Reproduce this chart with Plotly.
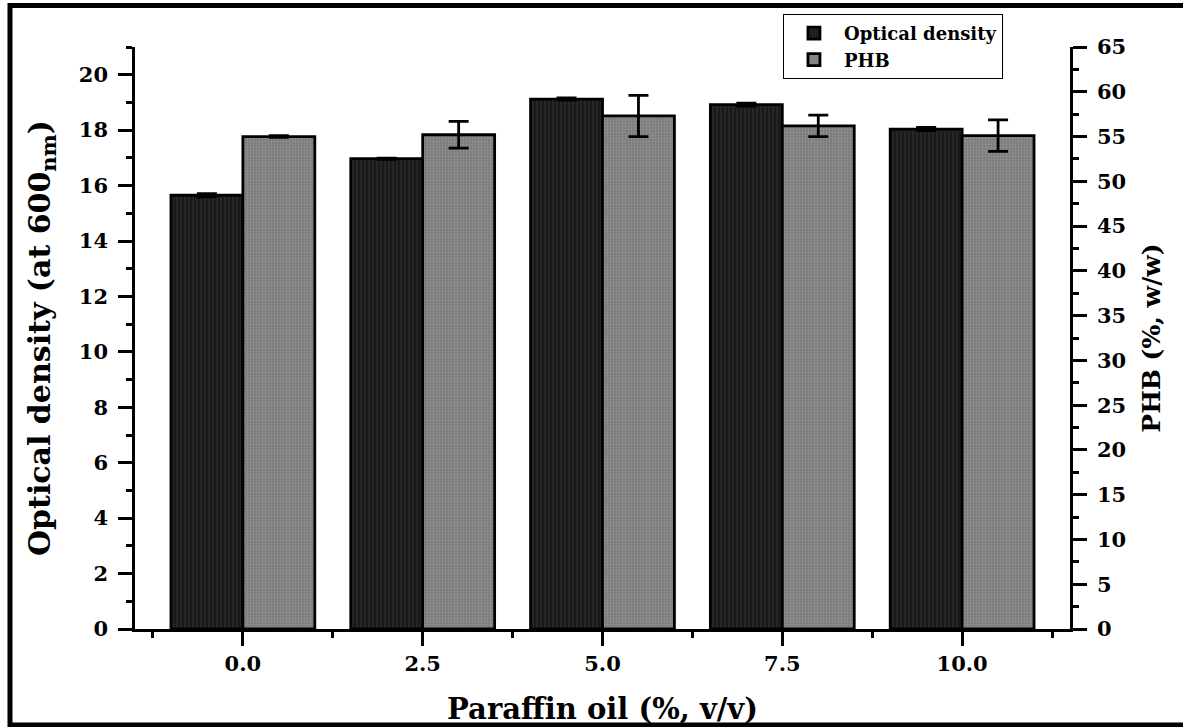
import plotly.graph_objects as go

# ---- data ----
paraffin = [0.0, 2.5, 5.0, 7.5, 10.0]
tick_labels = ["0.0", "2.5", "5.0", "7.5", "10.0"]
od_values = [15.65, 16.97, 19.12, 18.92, 18.04]
od_errors = [0.06, 0.02, 0.04, 0.05, 0.06]
phb_values = [55.0, 55.2, 57.3, 56.2, 55.1]
phb_errors = [0.1, 1.5, 2.3, 1.2, 1.75]

FONT = "DejaVu Serif"

fig = go.Figure()
fig.add_trace(go.Bar(
    x=paraffin, y=od_values, name="Optical density", yaxis="y",
    width=1.0, offset=-1.0,
    marker=dict(color="#1a1a1a", line=dict(color="black", width=2.8),
                pattern=dict(shape="|", fgcolor="#4a4a4a", bgcolor="#1a1a1a",
                             size=4, solidity=0.25)),
    error_y=dict(type="data", array=od_errors, visible=True,
                 color="black", thickness=2.8, width=10),
))
fig.add_trace(go.Bar(
    x=paraffin, y=phb_values, name="PHB", yaxis="y2",
    width=1.0, offset=0.0,
    marker=dict(color="#8a8a8a", line=dict(color="black", width=2.8),
                pattern=dict(shape=".", fgcolor="#aaaaaa", bgcolor="#787878",
                             size=3, solidity=0.45)),
    error_y=dict(type="data", array=phb_errors, visible=True,
                 color="black", thickness=2.8, width=10),
))

tickfont = dict(family=FONT, size=21, color="black", weight="bold")

fig.update_layout(
    width=1183, height=727,
    margin=dict(l=135, r=113, t=47, b=98, autoexpand=False),
    paper_bgcolor="white", plot_bgcolor="white",
    barmode="overlay",
    font=dict(family=FONT, color="black", weight="bold"),
    showlegend=True,
    legend=dict(x=0.693, y=1.0567, xanchor="left", yanchor="top",
                bordercolor="black", borderwidth=1, bgcolor="white",
                font=dict(family=FONT, size=18, color="black", weight="bold"),
                tracegroupgap=0, itemwidth=50),
    xaxis=dict(
        range=[-1.5, 11.5], tickmode="array", tickvals=paraffin, ticktext=tick_labels,
        ticks="outside", ticklen=14, tickwidth=2.5, tickcolor="black",
        minor=dict(tick0=-1.25, dtick=2.5, ticks="outside", ticklen=6,
                   tickwidth=2.5, tickcolor="black"),
        showline=True, linewidth=2.5, linecolor="black", automargin=False,
        showgrid=False, zeroline=False, tickfont=tickfont,
        title=dict(text="Paraffin oil (%, v/v)", standoff=24,
                   font=dict(family=FONT, size=29, color="black", weight="bold")),
    ),
    yaxis=dict(
        range=[0, 21], tickmode="linear", tick0=0, dtick=2,
        ticks="outside", ticklen=14, tickwidth=2.5, tickcolor="black",
        minor=dict(dtick=1, ticks="outside", ticklen=6, tickwidth=2.5, tickcolor="black"),
        showline=True, linewidth=2.5, linecolor="black", automargin=False,
        showgrid=False, zeroline=False, tickfont=tickfont, ticklabelstandoff=6,
        title=dict(text="Optical density (at 600<sub>nm</sub>)", standoff=20,
                   font=dict(family=FONT, size=30, color="black", weight="bold")),
    ),
    yaxis2=dict(
        range=[0, 65], overlaying="y", side="right", anchor="x",
        tickmode="linear", tick0=0, dtick=5,
        ticks="outside", ticklen=14, tickwidth=2.5, tickcolor="black",
        minor=dict(dtick=2.5, ticks="outside", ticklen=6, tickwidth=2.5, tickcolor="black"),
        showline=True, linewidth=2.5, linecolor="black", automargin=False,
        showgrid=False, zeroline=False, tickfont=tickfont, ticklabelstandoff=6,
        title=dict(text="PHB (%, w/w)", standoff=18,
                   font=dict(family=FONT, size=25, color="black", weight="bold")),
    ),
    shapes=[dict(type="rect", xref="paper", yref="paper",
                 x0=-0.1337, x1=1.14, y0=-0.165, y1=1.0713,
                 line=dict(color="black", width=5), fillcolor="rgba(0,0,0,0)",
                 layer="above")],
)

fig.write_html("out.html")
